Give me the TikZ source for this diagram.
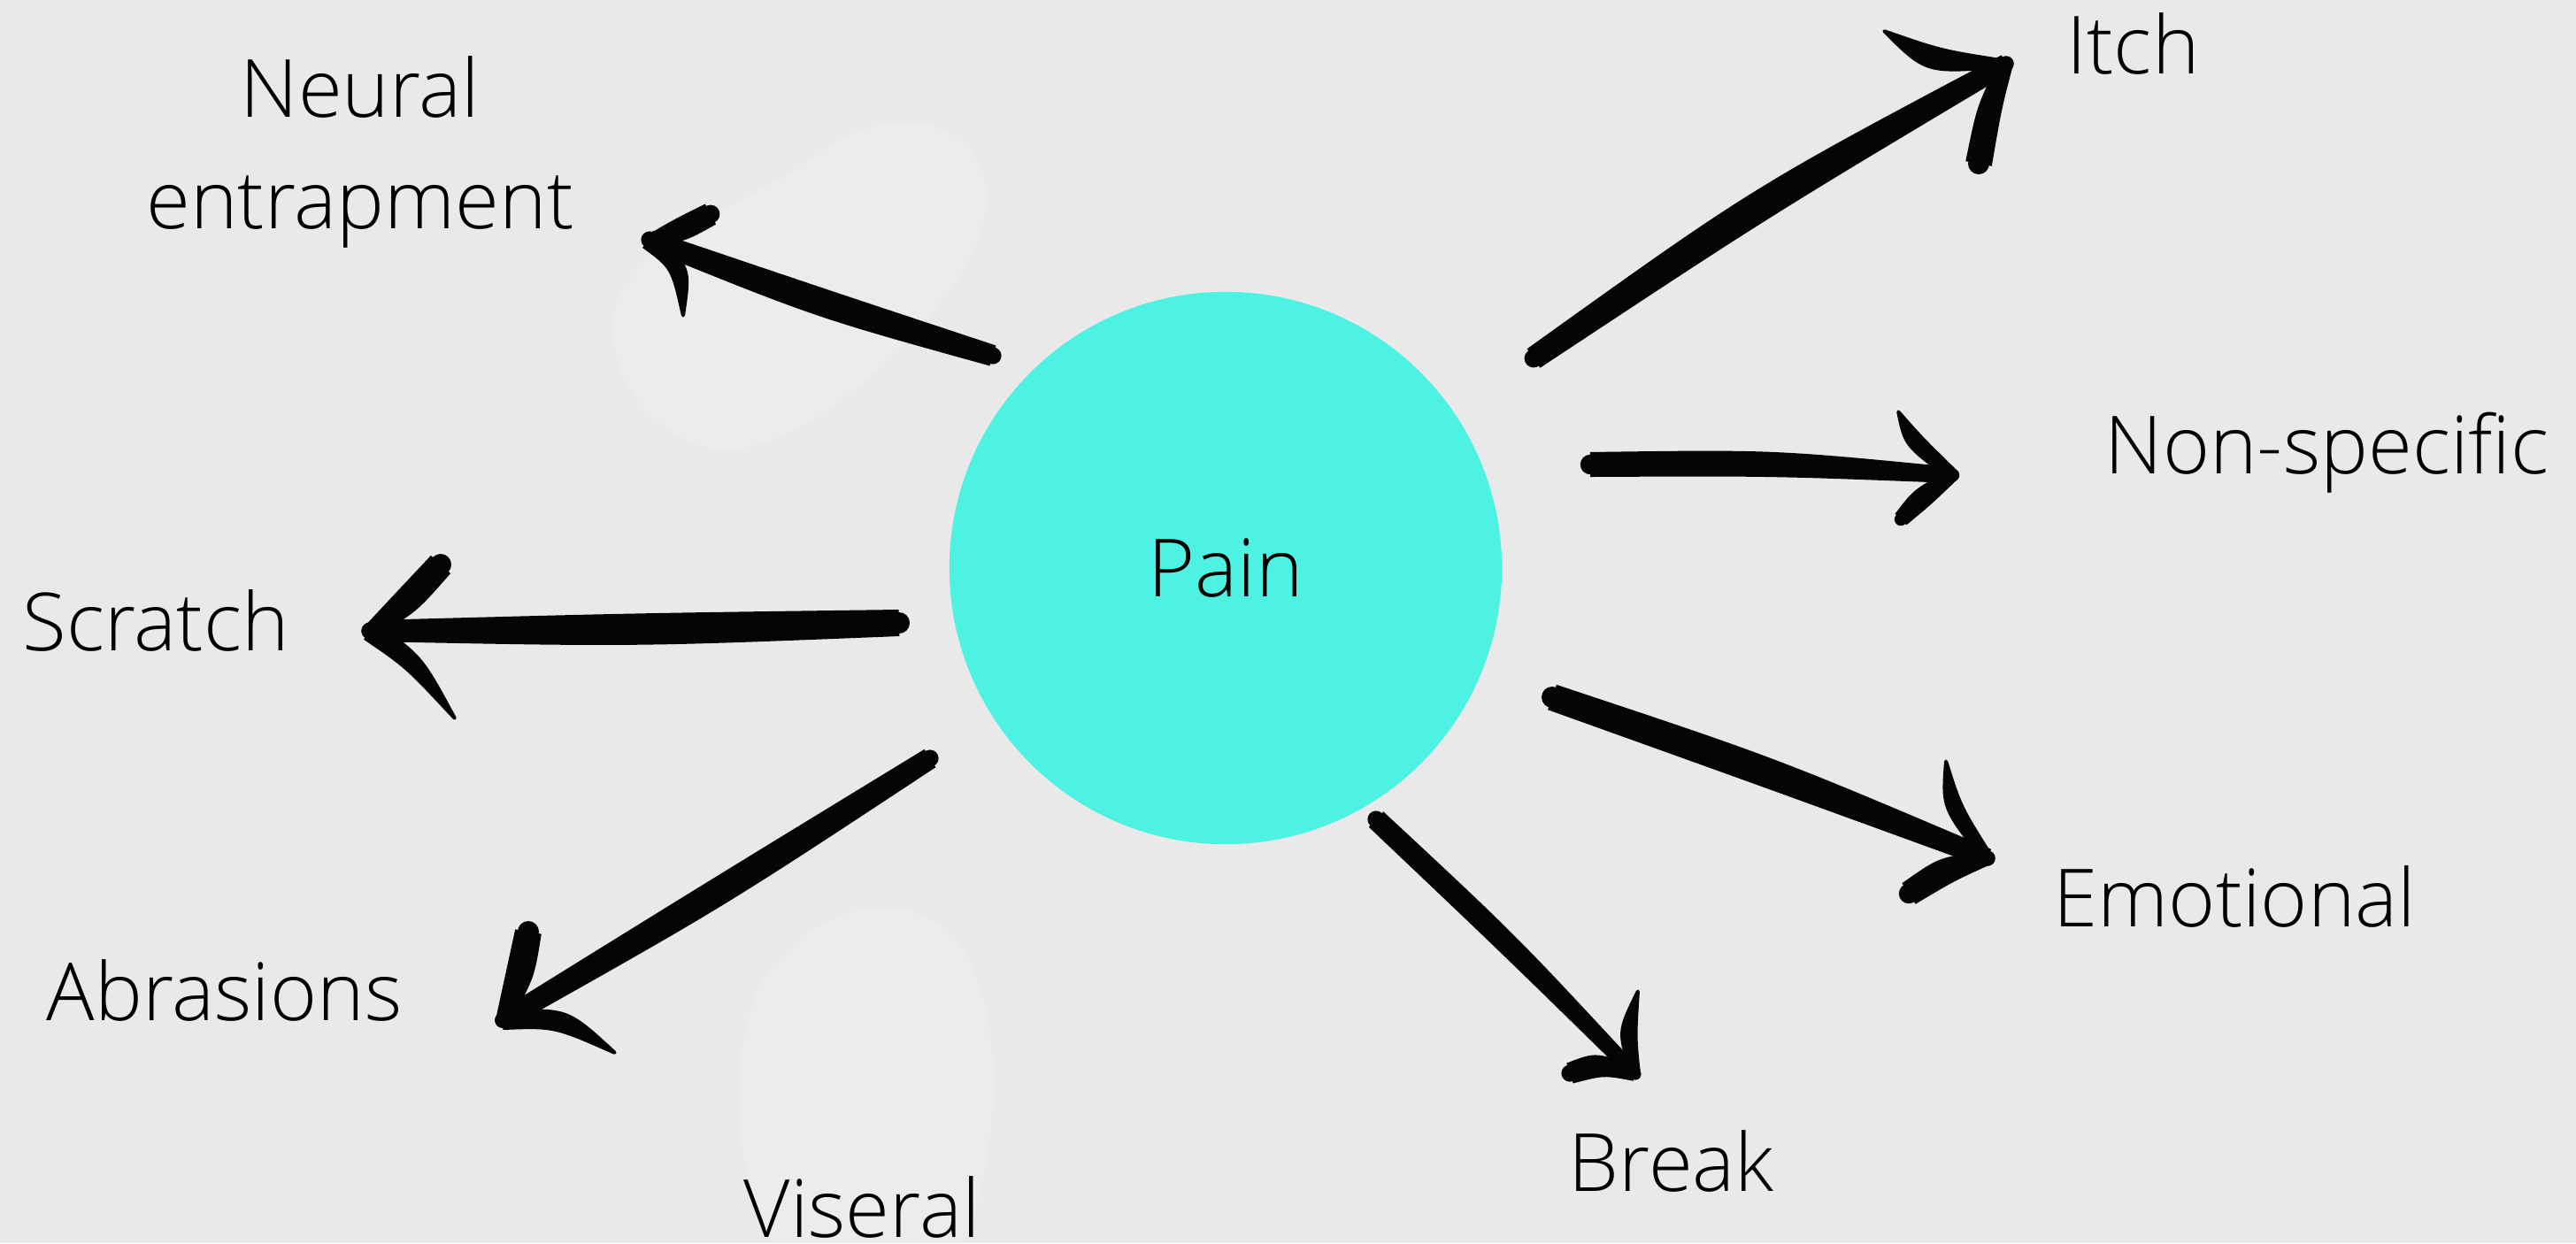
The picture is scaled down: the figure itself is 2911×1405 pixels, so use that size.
\documentclass[tikz,border=0pt]{standalone}
\usepackage{fontspec}
\setmainfont{Open Sans Light}
\usetikzlibrary{calc}
\definecolor{bgc}{HTML}{E9E9E9}
\definecolor{bglight}{HTML}{F2F2F2}
\definecolor{turq}{HTML}{4DF2E3}
\definecolor{ink}{HTML}{050505}
\newcommand\inkstroke[6]{%
  \fill[ink] ($(#1)!#4!90:(#2)$) .. controls ($(#2)!#5!90:(#3)$) .. ($(#3)!#6!-90:(#2)$)
    -- ($(#3)!#6!90:(#2)$) .. controls ($(#2)!#5!-90:(#3)$) .. ($(#1)!#4!-90:(#2)$) -- cycle;
  \fill[ink] (#1) circle[radius=0.8*#4];
  \fill[ink] (#3) circle[radius=0.8*#6];
}
\tikzset{
  lbl/.style={inner sep=0pt, text=black, font=\fontsize{25.8pt}{35.6pt}\selectfont},
  painc/.style={circle, fill=turq, inner sep=0pt, minimum size=6.24cm, text=black, font=\fontsize{25.8pt}{35.6pt}\selectfont}
}
\begin{document}
\begin{tikzpicture}[x=0.01cm, y=-0.01cm]
\useasboundingbox (0,0) rectangle (2911,1405);
\fill[bgc] (0,0) rectangle (2911,1405);
% soft lighter watercolor patches
\fill[bglight, opacity=0.4] (700,330) .. controls (760,250) and (850,230) .. (930,170)
  .. controls (1000,120) and (1080,130) .. (1110,190) .. controls (1130,260) and (1080,330) .. (1020,390)
  .. controls (960,450) and (900,500) .. (820,510) .. controls (740,500) and (670,420) .. (700,330) -- cycle;
\fill[bglight, opacity=0.4] (860,1110) .. controls (920,1020) and (1020,1000) .. (1080,1060)
  .. controls (1140,1140) and (1130,1300) .. (1090,1405) -- (870,1405)
  .. controls (830,1320) and (820,1200) .. (860,1110) -- cycle;

% central node
\node[painc] (pain) at (1385,642) {Pain};

% labels
\node[lbl, align=center, anchor=base] (neural) at (407,258) {Neural\\entrapment};
\node[lbl, anchor=base west] (itch) at (2335,83) {Itch};
\node[lbl, anchor=base west] (nonspec) at (2378,535) {Non-specific};
\node[lbl, anchor=base west] (scratch) at (25,735) {Scratch};
\node[lbl, anchor=base west] (emo) at (2320,1047) {Emotional};
\node[lbl, anchor=base west] (abr) at (52,1153) {Abrasions};
\node[lbl, anchor=base west] (brk) at (1772,1346) {Break};
\node[lbl, anchor=base west] (vis) at (840,1398) {Viseral};

% arrow coordinates
\coordinate (nT) at (1122,402); \coordinate (nC) at (928,343); \coordinate (nH) at (734,271);
\coordinate (nU) at (803,242); \coordinate (nUc) at (767,261);
\coordinate (nL) at (772,357); \coordinate (nLc) at (770,303);

\coordinate (iT) at (1733,405); \coordinate (iC) at (1990,228); \coordinate (iH) at (2267,72);
\coordinate (iU) at (2129,35); \coordinate (iUc) at (2185,70);
\coordinate (iL) at (2236,185); \coordinate (iLc) at (2248,121);

\coordinate (sT) at (1016,704); \coordinate (sC) at (717,712); \coordinate (sH) at (418,713);
\coordinate (sU) at (498,638); \coordinate (sUc) at (458,682);
\coordinate (sL) at (514,812); \coordinate (sLc) at (468,748);

\coordinate (aT) at (1051,857); \coordinate (aC) at (810,1010); \coordinate (aH) at (568,1153);
\coordinate (aU) at (597,1053); \coordinate (aUc) at (588,1103);
\coordinate (aL) at (695,1190); \coordinate (aLc) at (634,1150);

\coordinate (pT) at (1797,525); \coordinate (pC) at (2002,523); \coordinate (pH) at (2207,537);
\coordinate (pU) at (2145,465); \coordinate (pUc) at (2162,499);
\coordinate (pL) at (2148,587); \coordinate (pLc) at (2172,562);

\coordinate (eT) at (1754,788); \coordinate (eC) at (2000,873); \coordinate (eH) at (2246,970);
\coordinate (eU) at (2199,860); \coordinate (eUc) at (2205,912);
\coordinate (eL) at (2157,1010); \coordinate (eLc) at (2200,982);

\coordinate (bT) at (1555,926); \coordinate (bC) at (1704,1066); \coordinate (bH) at (1848,1214);
\coordinate (bU) at (1851,1120); \coordinate (bUc) at (1838,1169);
\coordinate (bL) at (1774,1213); \coordinate (bLc) at (1808,1202);

% Neural entrapment
\inkstroke{nT}{nC}{nH}{0.12cm}{0.17cm}{0.11cm}
\inkstroke{nH}{nUc}{nU}{0.06cm}{0.14cm}{0.13cm}
\inkstroke{nH}{nLc}{nL}{0.12cm}{0.12cm}{0.02cm}
% Itch
\inkstroke{iT}{iC}{iH}{0.13cm}{0.19cm}{0.11cm}
\inkstroke{iH}{iUc}{iU}{0.05cm}{0.17cm}{0.02cm}
\inkstroke{iH}{iLc}{iL}{0.08cm}{0.14cm}{0.15cm}
% Scratch
\inkstroke{sT}{sC}{sH}{0.15cm}{0.19cm}{0.12cm}
\inkstroke{sH}{sUc}{sU}{0.08cm}{0.16cm}{0.15cm}
\inkstroke{sH}{sLc}{sL}{0.12cm}{0.12cm}{0.02cm}
% Abrasions
\inkstroke{aT}{aC}{aH}{0.12cm}{0.17cm}{0.11cm}
\inkstroke{aH}{aUc}{aU}{0.08cm}{0.16cm}{0.15cm}
\inkstroke{aH}{aLc}{aL}{0.11cm}{0.14cm}{0.02cm}
% Non-specific
\inkstroke{pT}{pC}{pH}{0.14cm}{0.15cm}{0.09cm}
\inkstroke{pH}{pUc}{pU}{0.07cm}{0.12cm}{0.02cm}
\inkstroke{pH}{pLc}{pL}{0.07cm}{0.13cm}{0.09cm}
% Emotional
\inkstroke{eT}{eC}{eH}{0.15cm}{0.18cm}{0.11cm}
\inkstroke{eH}{eUc}{eU}{0.07cm}{0.12cm}{0.02cm}
\inkstroke{eH}{eLc}{eL}{0.08cm}{0.16cm}{0.14cm}
% Break
\inkstroke{bT}{bC}{bH}{0.12cm}{0.13cm}{0.08cm}
\inkstroke{bH}{bUc}{bU}{0.06cm}{0.12cm}{0.02cm}
\inkstroke{bH}{bLc}{bL}{0.08cm}{0.14cm}{0.12cm}
\end{tikzpicture}
\end{document}
